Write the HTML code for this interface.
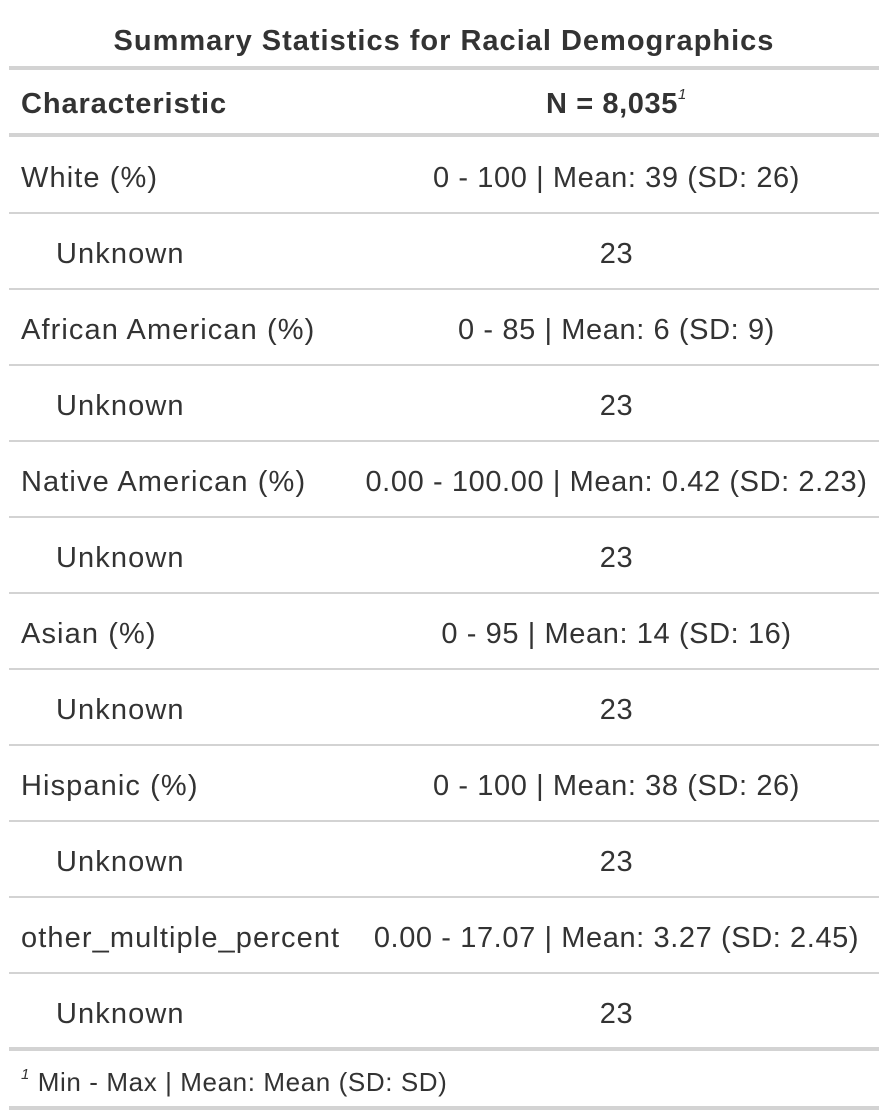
<!DOCTYPE html>
<html><head><meta charset="utf-8"><style>
body{margin:0;width:888px;height:1120px;background:#fff;font-family:"Liberation Sans",sans-serif;color:#333;position:relative;overflow:hidden}
.t{position:absolute;white-space:nowrap;font-size:29px;line-height:30px;letter-spacing:1.1px}
.ln{position:absolute;left:9px;width:870px;background:#d3d3d3}
.c2{position:absolute;left:355px;width:523px;text-align:center;white-space:nowrap;font-size:29px;line-height:30px;letter-spacing:0.6px}
sup{line-height:0}
</style></head><body>
<div class="t" style="left:0;width:888px;text-align:center;top:26px;font-weight:bold;font-size:29px;letter-spacing:1px">Summary Statistics for Racial Demographics</div>
<div class="ln" style="top:66px;height:4px"></div>
<div class="t" style="left:21px;top:89px;font-weight:bold;letter-spacing:0.9px">Characteristic</div>
<div class="c2" style="top:89px;font-weight:bold">N = 8,035<sup style="font-size:15px;font-style:italic;font-weight:normal;vertical-align:14px">1</sup></div>
<div class="ln" style="top:133px;height:4px"></div>
<div id="rows"></div>
<div class="ln" style="top:1047px;height:4px"></div>
<div class="t" style="left:21px;top:1067px;font-size:26px;letter-spacing:0.6px"><sup style="font-size:15px;font-style:italic;vertical-align:12px">1</sup> Min - Max | Mean: Mean (SD: SD)</div>
<div class="ln" style="top:1106px;height:4px"></div>
<script>
const labels=["White (%)","Unknown","African American (%)","Unknown","Native American (%)","Unknown","Asian (%)","Unknown","Hispanic (%)","Unknown","other_multiple_percent","Unknown"];
const values=["0 - 100 | Mean: 39 (SD: 26)","23","0 - 85 | Mean: 6 (SD: 9)","23","0.00 - 100.00 | Mean: 0.42 (SD: 2.23)","23","0 - 95 | Mean: 14 (SD: 16)","23","0 - 100 | Mean: 38 (SD: 26)","23","0.00 - 17.07 | Mean: 3.27 (SD: 2.45)","23"];
const host=document.getElementById('rows');
labels.forEach((l,i)=>{
  const top=137+i*76;
  const a=document.createElement('div');a.className='t';
  
  
  a.style.left=(l==='Unknown'?56:21)+'px';a.style.top=(top+26)+'px';a.textContent=l;host.appendChild(a);
  const b=document.createElement('div');b.className='c2';
  
  
  b.style.top=(top+26)+'px';b.textContent=values[i];host.appendChild(b);
  if(i<labels.length-1){const s=document.createElement('div');s.className='ln';
  
  
  s.style.top=(top+75)+'px';s.style.height='2px';host.appendChild(s);}
});
</script>
</body></html>
